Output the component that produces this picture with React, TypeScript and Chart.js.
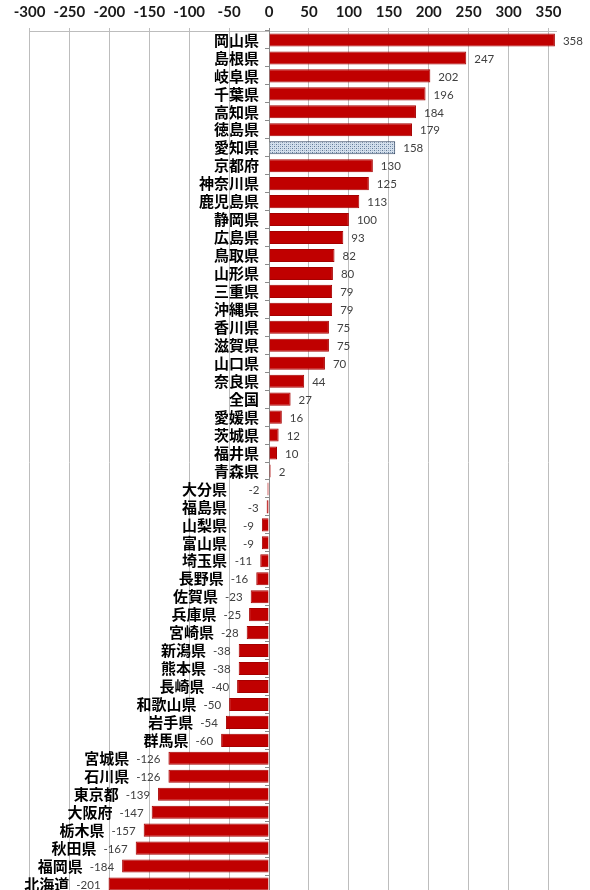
import React, { useEffect, useRef } from 'react';
import { Chart, registerables } from 'chart.js';

Chart.register(...registerables);

const prefectures: string[] = [
  '岡山県', '島根県', '岐阜県', '千葉県', '高知県', '徳島県', '愛知県', '京都府',
  '神奈川県', '鹿児島県', '静岡県', '広島県', '鳥取県', '山形県', '三重県', '沖縄県',
  '香川県', '滋賀県', '山口県', '奈良県', '全国', '愛媛県', '茨城県', '福井県',
  '青森県', '大分県', '福島県', '山梨県', '富山県', '埼玉県', '長野県', '佐賀県',
  '兵庫県', '宮崎県', '新潟県', '熊本県', '長崎県', '和歌山県', '岩手県', '群馬県',
  '宮城県', '石川県', '東京都', '大阪府', '栃木県', '秋田県', '福岡県', '北海道',
];

const values: number[] = [
  358, 247, 202, 196, 184, 179, 158, 130,
  125, 113, 100, 93, 82, 80, 79, 79,
  75, 75, 70, 44, 27, 16, 12, 10,
  2, -2, -3, -9, -9, -11, -16, -23,
  -25, -28, -38, -38, -40, -50, -54, -60,
  -126, -126, -139, -147, -157, -167, -184, -201,
];

const highlighted: string[] = ['愛知県'];

const tickValues: number[] = [-300, -250, -200, -150, -100, -50, 0, 50, 100, 150, 200, 250, 300, 350];
const axisMin = -300;
const axisMax = 360;

export default function App() {
  const ref = useRef<HTMLCanvasElement>(null);

  useEffect(() => {
    const canvas = ref.current;
    if (!canvas) return;
    const ctx = canvas.getContext('2d')!;

    const pc = document.createElement('canvas');
    pc.width = 4;
    pc.height = 4;
    const p = pc.getContext('2d')!;
    p.fillStyle = '#d3dfec';
    p.fillRect(0, 0, 4, 4);
    p.fillStyle = '#5f7896';
    p.fillRect(0, 0, 1, 1);
    p.fillRect(2, 2, 1, 1);
    p.fillStyle = '#9fb2c8';
    p.fillRect(2, 0, 1, 1);
    p.fillRect(0, 2, 1, 1);
    const pattern = ctx.createPattern(pc, 'repeat')!;

    const bg = prefectures.map((n) => (highlighted.includes(n) ? pattern : '#c00000'));
    const bd = prefectures.map((n) => (highlighted.includes(n) ? '#2e4360' : '#a50000'));

    const labelPlugin = {
      id: 'barLabels',
      afterDatasetsDraw(chart: any) {
        const c = chart.ctx as CanvasRenderingContext2D;
        const xs = chart.scales.x;
        const ys = chart.scales.y;
        const x0 = xs.getPixelForValue(0);
        c.save();
        c.textBaseline = 'middle';
        prefectures.forEach((name, i) => {
          const v = values[i];
          const y = ys.getPixelForValue(i);
          const xe = xs.getPixelForValue(v);
          const txt = String(v);
          c.font = '11.5px Lato';
          c.fillStyle = '#404040';
          let catRight: number;
          if (v >= 0) {
            c.textAlign = 'left';
            c.fillText(txt, xe + 8, y + 1);
            catRight = x0 - 10;
          } else {
            c.textAlign = 'right';
            const vr = xe - 8;
            c.fillText(txt, vr, y + 1);
            const w = c.measureText(txt).width;
            catRight = Math.min(x0 - 42, vr - w - 7);
          }
          c.font = 'bold 15px "Noto Sans CJK JP"';
          c.fillStyle = '#000000';
          c.textAlign = 'right';
          c.fillText(name, catRight, y);
        });
        c.restore();
      },
    };

    const chart = new Chart(ctx, {
      type: 'bar',
      data: {
        labels: prefectures,
        datasets: [
          {
            data: values,
            backgroundColor: bg as any,
            borderColor: bd,
            borderWidth: 1,
            barPercentage: 0.73,
            categoryPercentage: 1,
          },
        ],
      },
      options: {
        indexAxis: 'y',
        animation: false,
        responsive: false,
        maintainAspectRatio: false,
        layout: { padding: { top: -4, left: 29.5, right: 33.5, bottom: 0 } },
        plugins: {
          legend: { display: false },
          tooltip: { enabled: false },
        },
        scales: {
          x: {
            position: 'top',
            min: axisMin,
            max: axisMax,
            afterBuildTicks: (scale: any) => {
              scale.ticks = tickValues.map((v) => ({ value: v }));
            },
            grid: {
              color: (c: any) => (c.tick && c.tick.value === 0 ? '#8a8a8a' : '#bdbdbd'),
              lineWidth: 1,
              tickLength: 3,
            },
            border: { display: true, color: '#bdbdbd' },
            ticks: {
              padding: 7,
              color: '#1a1a1a',
              font: { family: 'Lato', size: 15, weight: 'bold' },
              maxRotation: 0,
              autoSkip: false,
            },
          },
          y: {
            position: { x: 0 } as any,
            grid: {
              display: true,
              drawOnChartArea: false,
              drawTicks: true,
              tickLength: 4,
              color: '#8a8a8a',
              offset: true,
            },
            border: { display: true, color: '#8a8a8a' },
            ticks: { display: false },
          },
        },
      },
      plugins: [labelPlugin],
    });

    return () => chart.destroy();
  }, []);

  return (
    <div style={{ position: 'fixed', left: 0, top: 0, width: 590, height: 890, overflow: 'hidden', background: '#ffffff' }}>
      <canvas ref={ref} width={590} height={893} style={{ display: 'block' }} />
    </div>
  );
}
